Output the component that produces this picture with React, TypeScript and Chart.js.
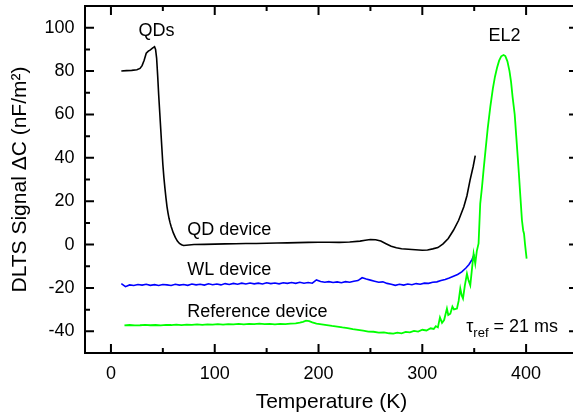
import React, { useEffect, useRef } from 'react';
import { Chart, registerables } from 'chart.js';

Chart.register(...registerables);

// ---- data ----
const qdT = [10, 15, 20, 25, 28, 30, 32, 34, 36, 38, 40, 42, 43, 44, 45, 46, 47, 48, 49, 50, 51, 52, 53, 54, 55, 56, 57, 58, 60, 62, 64, 66, 68, 70, 80, 90, 100, 110, 120, 130, 140, 150, 160, 170, 180, 190, 200, 210, 220, 230, 240, 245, 250, 255, 260, 265, 270, 275, 280, 290, 300, 305, 310, 315, 320, 325, 330, 335, 340, 343, 346, 349, 351];
const qdSignal = [80.0, 80.2, 80.3, 80.6, 81.2, 82.5, 85.0, 88.2, 89.2, 89.8, 90.6, 91.2, 90.0, 86.0, 78.0, 69.0, 61.0, 53.0, 45.0, 37.0, 31.0, 26.0, 21.5, 17.5, 14.5, 12.0, 10.0, 8.3, 5.5, 3.3, 1.6, 0.5, -0.1, -0.4, 0.0, 0.1, 0.2, 0.3, 0.4, 0.5, 0.5, 0.6, 0.7, 0.8, 0.9, 1.0, 1.1, 1.1, 1.0, 1.2, 1.6, 2.0, 2.3, 2.2, 1.6, 0.4, -0.8, -1.5, -1.9, -2.3, -2.6, -2.5, -2.0, -1.4, 0.3, 2.8, 6.6, 11.2, 17.4, 22.5, 29.7, 36.0, 41.0];

const wlT = [10, 14, 18, 22, 26, 30, 34, 38, 42, 46, 50, 54, 58, 62, 66, 70, 74, 78, 82, 86, 90, 94, 98, 102, 106, 110, 114, 118, 122, 126, 130, 134, 138, 142, 146, 150, 154, 158, 162, 166, 170, 174, 178, 182, 186, 190, 194, 198, 202, 206, 210, 214, 218, 222, 226, 230, 234, 238, 242, 246, 250, 254, 258, 262, 266, 270, 274, 278, 282, 286, 290, 294, 298, 302, 306, 310, 314, 318, 322, 326, 330, 334, 338, 342, 345, 348, 350];
const wlSignal = [-18.0, -19.4, -18.6, -18.9, -18.4, -18.7, -18.3, -18.8, -18.5, -18.9, -18.4, -18.6, -18.9, -18.3, -18.7, -18.4, -18.8, -18.2, -18.6, -18.3, -18.7, -18.1, -18.5, -18.2, -18.6, -18.0, -18.4, -17.9, -18.3, -17.8, -18.2, -17.7, -18.1, -17.8, -18.2, -17.6, -18.0, -17.7, -18.1, -17.6, -17.9, -17.5, -17.9, -17.4, -17.8, -17.5, -17.8, -16.3, -17.0, -17.4, -17.1, -17.5, -17.2, -17.6, -17.1, -17.4, -16.9, -16.6, -15.3, -15.9, -16.4, -16.9, -17.4, -17.2, -17.9, -18.3, -18.8, -18.3, -18.7, -18.2, -18.5, -18.0, -18.3, -17.8, -17.9, -17.4, -17.2, -16.6, -16.1, -15.4, -14.6, -13.8, -12.6, -10.8, -9.2, -6.8, -4.5];

const refT = [13, 18, 23, 28, 33, 38, 43, 48, 53, 58, 63, 68, 73, 78, 83, 88, 93, 98, 103, 108, 113, 118, 123, 128, 133, 138, 143, 148, 153, 158, 163, 168, 173, 178, 182, 185, 188, 191, 194, 198, 203, 208, 213, 218, 223, 228, 233, 238, 243, 248, 253, 258, 263, 268, 272, 276, 280, 284, 288, 292, 296, 300, 304, 308, 311, 313, 315, 317, 319, 321, 323.7, 325, 327, 329, 330.5, 333.4, 335, 336.6, 338, 339.2, 341, 343, 344.5, 346.2, 348, 349.4, 351, 352.5, 354.2, 355.8, 357.5, 359, 361, 363, 365.5, 368, 370, 372, 374, 376, 378.3, 380, 382, 384, 385.5, 387, 389, 390.5, 392, 393, 394.5, 396, 397.2, 398, 399, 400.5];
const refSignal = [-37.3, -37.1, -37.3, -37.2, -37.0, -37.2, -37.1, -37.3, -37.0, -37.1, -36.9, -37.1, -36.9, -37.0, -36.8, -37.0, -36.8, -36.9, -36.7, -36.9, -36.7, -36.8, -36.6, -36.8, -36.6, -36.7, -36.5, -36.7, -36.6, -36.8, -36.6, -36.7, -36.5, -36.3, -36.0, -35.6, -35.1, -35.3, -35.9, -36.5, -36.8, -37.1, -37.5, -37.8, -38.2, -38.5, -39.0, -39.3, -39.7, -40.1, -40.2, -40.6, -40.5, -40.9, -41.1, -40.6, -40.9, -40.3, -40.5, -39.8, -40.1, -39.3, -39.6, -38.6, -38.9, -37.6, -38.2, -33.6, -36.1, -34.8, -29.5, -32.5, -31.9, -28.6, -29.9, -29.5, -26.0, -20.3, -23.5, -24.9, -18.8, -13.4, -16.5, -18.8, -10.5, -4.2, -8.8, -3.0, 0.5, 18.9, 26.5, 34.3, 44.0, 53.5, 63.5, 72.0, 77.4, 81.5, 84.8, 86.8, 87.4, 86.9, 84.5, 80.0, 75.0, 68.0, 60.0, 50.0, 40.0, 33.0, 22.0, 11.2, 6.5, 5.0, 0.0, -6.5];

const xTickValues = [0, 100, 200, 300, 400];
const xMinorValues = [50, 150, 250, 350, 450];
const yTickValues = [-40, -20, 0, 20, 40, 60, 80, 100];
const yMinorValues = [-50, -30, -10, 10, 30, 50, 70, 90, 110];

const labelTexts = ['QDs', 'EL2', 'QD device', 'WL device', 'Reference device'];
const labelX = [43.9, 379.3, 73.6, 73.6, 73.6];
const labelY = [96.2, 93.9, 4.3, -13.85, -33.4];
const labelAlign = ['center', 'center', 'left', 'left', 'left'];
const tauX = 342.3;
const tauY = -40.35;

const FONT = '"Liberation Sans", Arial, Helvetica, sans-serif';

const framePlugin = {
  id: 'frameAndLabels',
  afterDraw(chart: any) {
    const { ctx, chartArea, scales } = chart;
    const { left, right, top, bottom } = chartArea;
    const xs = scales.x;
    const ys = scales.y;
    ctx.save();
    ctx.strokeStyle = '#000';
    ctx.lineWidth = 2;
    ctx.strokeRect(left, top, right - left, bottom - top);
    ctx.beginPath();
    const xt = (vals: number[], len: number) => {
      vals.forEach((v) => {
        const p = xs.getPixelForValue(v);
        ctx.moveTo(p, bottom);
        ctx.lineTo(p, bottom - len);
        ctx.moveTo(p, top);
        ctx.lineTo(p, top + len);
      });
    };
    const yt = (vals: number[], len: number) => {
      vals.forEach((v) => {
        const p = ys.getPixelForValue(v);
        ctx.moveTo(left, p);
        ctx.lineTo(left + len, p);
        ctx.moveTo(right, p);
        ctx.lineTo(right - len, p);
      });
    };
    xt(xTickValues, 9);
    xt(xMinorValues, 5);
    yt(yTickValues, 9);
    yt(yMinorValues, 5);
    ctx.stroke();

    ctx.fillStyle = '#000';
    ctx.textBaseline = 'alphabetic';
    ctx.font = `18px ${FONT}`;
    labelTexts.forEach((t, i) => {
      ctx.textAlign = labelAlign[i] as CanvasTextAlign;
      ctx.fillText(t, xs.getPixelForValue(labelX[i]), ys.getPixelForValue(labelY[i]));
    });

    // tau_ref = 21 ms
    ctx.textAlign = 'left';
    let px = xs.getPixelForValue(tauX);
    const py = ys.getPixelForValue(tauY);
    ctx.font = `18px ${FONT}`;
    ctx.fillText('τ', px, py);
    px += ctx.measureText('τ').width;
    ctx.font = `13px ${FONT}`;
    ctx.fillText('ref', px, py + 5);
    px += ctx.measureText('ref').width;
    ctx.font = `18px ${FONT}`;
    ctx.fillText(' = 21 ms', px, py);
    ctx.restore();
  },
};

function pts(xv: number[], yv: number[]) {
  return xv.map((x, i) => ({ x, y: yv[i] }));
}

export default function App() {
  const ref = useRef<HTMLCanvasElement | null>(null);
  useEffect(() => {
    if (!ref.current) return;
    const chart = new Chart(ref.current, {
      type: 'line',
      data: {
        datasets: [
          {
            label: 'Reference device',
            data: pts(refT, refSignal),
            borderColor: '#00ff00',
            borderWidth: 1.8,
            pointRadius: 0,
            tension: 0,
          },
          {
            label: 'QD device',
            data: pts(qdT, qdSignal),
            borderColor: '#000000',
            borderWidth: 1.6,
            pointRadius: 0,
            tension: 0,
          },
          {
            label: 'WL device',
            data: pts(wlT, wlSignal),
            borderColor: '#0000ff',
            borderWidth: 1.6,
            pointRadius: 0,
            tension: 0,
          },
        ],
      },
      options: {
        animation: false,
        responsive: false,
        maintainAspectRatio: false,
        devicePixelRatio: 1,
        layout: { padding: { top: 6, right: 2, left: 0, bottom: 0 } },
        plugins: { legend: { display: false }, tooltip: { enabled: false } },
        scales: {
          x: {
            type: 'linear',
            position: 'bottom',
            min: -25,
            max: 450,
            afterBuildTicks: (s: any) => {
              s.ticks = xTickValues.map((v) => ({ value: v }));
            },
            afterFit: (s: any) => {
              s.height = 64;
              s.paddingLeft = 0;
              s.paddingRight = 0;
            },
            grid: { display: false, drawTicks: false },
            border: { display: false },
            ticks: {
              padding: 10,
              color: '#000',
              maxRotation: 0,
              autoSkip: false,
              font: { family: FONT, size: 18 },
            },
            title: {
              display: true,
              text: 'Temperature (K)',
              color: '#000',
              font: { family: FONT, size: 21 },
              padding: { top: 0, bottom: 2 },
            },
          },
          y: {
            type: 'linear',
            min: -50,
            max: 110,
            afterBuildTicks: (s: any) => {
              s.ticks = yTickValues.map((v) => ({ value: v }));
            },
            afterFit: (s: any) => {
              s.width = 85;
              s.paddingTop = 0;
              s.paddingBottom = 0;
            },
            grid: { display: false, drawTicks: false },
            border: { display: false },
            ticks: {
              padding: 10.5,
              color: '#000',
              autoSkip: false,
              font: { family: FONT, size: 18 },
            },
            title: {
              display: true,
              text: 'DLTS Signal ΔC (nF/m²)',
              color: '#000',
              font: { family: FONT, size: 21 },
              padding: { top: 8, bottom: 0 },
            },
          },
        },
      },
      plugins: [framePlugin],
    } as any);
    return () => chart.destroy();
  }, []);
  return (
    <div
      style={{
        position: 'fixed',
        left: 0,
        top: 0,
        width: 573,
        height: 417,
        overflow: 'hidden',
        background: '#fff',
      }}
    >
      <canvas ref={ref} width={580} height={417} style={{ display: 'block', width: 580, height: 417 }} />
    </div>
  );
}
